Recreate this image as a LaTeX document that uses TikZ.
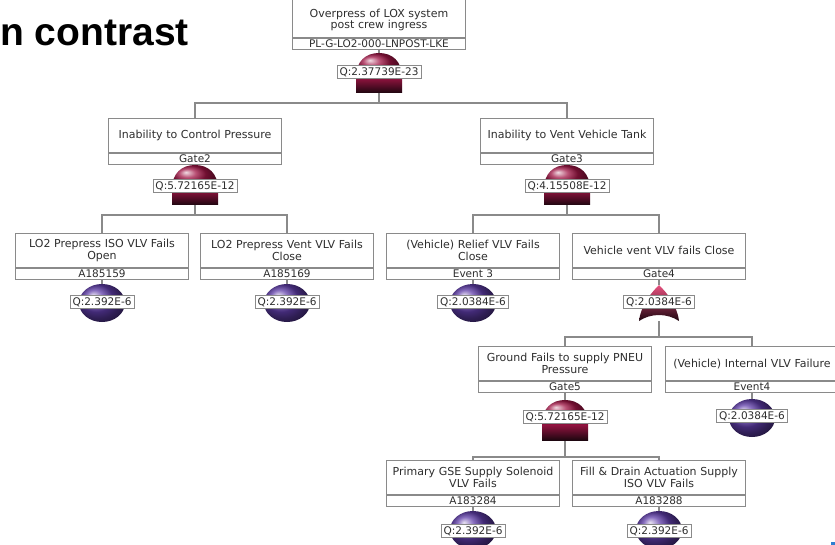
\documentclass[tikz,border=0pt]{standalone}
\usepackage{fontspec}
\setmainfont{DejaVu Sans}
\newfontfamily\headfont{Liberation Sans}
\usetikzlibrary{shapes.geometric,backgrounds}

\definecolor{boxline}{HTML}{8A8A8A}
\definecolor{txt}{HTML}{2E2E2E}
\definecolor{andlight}{HTML}{E8507E}
\definecolor{andmid}{HTML}{A01545}
\definecolor{anddark}{HTML}{1E0610}
\definecolor{evpurple}{HTML}{5E3CA8}
\definecolor{markblue}{HTML}{2E7FD0}

\tikzset{
  headline/.style={font=\headfont\bfseries\fontsize{39}{44}\selectfont, inner sep=0pt},
  title/.style={draw=boxline, line width=1.1pt, fill=white, minimum width=173pt,
    minimum height=34pt, text width=172pt, align=center, inner sep=0pt, anchor=north,
    text=txt, font=\fontsize{11}{11.5}\selectfont},
  ident/.style={draw=boxline, line width=1.1pt, fill=white, minimum width=173pt,
    minimum height=11pt, text width=172pt, align=center, inner sep=0pt, anchor=north,
    text=txt, font=\fontsize{10.5}{11}\selectfont},
  prob/.style={draw=boxline, line width=0.9pt, fill=white, inner xsep=2.5pt,
    inner ysep=1.5pt, text=txt, font=\fontsize{10.5}{11}\selectfont},
  event/.style={ellipse, minimum width=46pt, minimum height=38pt, inner sep=0pt,
    shading=ball, ball color=evpurple},
  andgate/.style={minimum width=46pt, minimum height=40pt, inner sep=0pt,
    path picture={
      \begin{scope}[shift={(path picture bounding box.center)}]
        \shade[top color=andmid, bottom color=anddark] (-23,3) rectangle (23,20);
        \shade[ball color=andmid] (-23,4) .. controls (-23,-12) and (-13,-20) .. (0,-20)
          .. controls (13,-20) and (23,-12) .. (23,4) -- cycle;
      \end{scope}}},
  orgate/.style={minimum width=42pt, minimum height=36pt, inner sep=0pt,
    path picture={
      \begin{scope}[shift={(path picture bounding box.center)}]
        \shade[top color=andlight, middle color=andmid, bottom color=anddark]
          (-20,18) .. controls (-18,2) and (-8,-10) .. (0,-18)
          .. controls (8,-10) and (18,2) .. (20,18)
          .. controls (8,10) and (-8,10) .. (-20,18) -- cycle;
      \end{scope}}},
  wire/.style={draw=boxline, line width=1.1pt},
}

\begin{document}
\begin{tikzpicture}[x=1pt,y=-1pt]
\useasboundingbox (0,0) rectangle (835,545);
\clip (0,0) rectangle (835,545);

\node[headline, anchor=base west] (head) at (0,46) {n contrast};

% top event
\node[title, minimum height=42pt] (t0) at (379,-5)
  {\rule{0pt}{15pt}Overpress of LOX system\\post crew ingress};
\node[ident] (i0) at (t0.south) {PL-G-LO2-000-LNPOST-LKE};
\node[andgate] (g0) at (379,73) {};
\node[prob] (q0) at (379,72) {Q:2.37739E-23};

% second level
\node[title] (t2) at (195,118) {Inability to Control Pressure};
\node[ident] (i2) at (t2.south) {Gate2};
\node[andgate] (g2) at (195,185) {};
\node[prob] (q2) at (195,186) {Q:5.72165E-12};

\node[title] (t3) at (567,118) {Inability to Vent Vehicle Tank};
\node[ident] (i3) at (t3.south) {Gate3};
\node[andgate] (g3) at (567,185) {};
\node[prob] (q3) at (567,186) {Q:4.15508E-12};

% third level
\node[title] (t4) at (102,233) {LO2 Prepress ISO VLV Fails\\Open};
\node[ident] (i4) at (t4.south) {A185159};
\node[event] (e4) at (102,303) {};
\node[prob] (q4) at (102,302) {Q:2.392E-6};

\node[title] (t5) at (287,233) {LO2 Prepress Vent VLV Fails\\Close};
\node[ident] (i5) at (t5.south) {A185169};
\node[event] (e5) at (287,303) {};
\node[prob] (q5) at (287,302) {Q:2.392E-6};

\node[title] (t6) at (473,233) {(Vehicle) Relief VLV Fails\\Close};
\node[ident] (i6) at (t6.south) {Event 3};
\node[event] (e6) at (473,303) {};
\node[prob] (q6) at (473,302) {Q:2.0384E-6};

\node[title] (t7) at (659,233) {Vehicle vent VLV fails Close};
\node[ident] (i7) at (t7.south) {Gate4};
\node[orgate] (g7) at (659,303) {};
\node[prob] (q7) at (659,302) {Q:2.0384E-6};

% fourth level
\node[title] (t8) at (565,346) {Ground Fails to supply PNEU\\Pressure};
\node[ident] (i8) at (t8.south) {Gate5};
\node[andgate] (g8) at (565,420) {};
\node[prob] (q8) at (565,417) {Q:5.72165E-12};

\node[title] (t9) at (752,346) {(Vehicle) Internal VLV Failure};
\node[ident] (i9) at (t9.south) {Event4};
\node[event] (e9) at (752,418) {};
\node[prob] (q9) at (752,416) {Q:2.0384E-6};

% fifth level
\node[title] (t10) at (473,460) {Primary GSE Supply Solenoid\\VLV Fails};
\node[ident] (i10) at (t10.south) {A183284};
\node[event] (e10) at (473,530) {};
\node[prob] (q10) at (473,531) {Q:2.392E-6};

\node[title] (t11) at (659,460) {Fill \& Drain Actuation Supply\\ISO VLV Fails};
\node[ident] (i11) at (t11.south) {A183288};
\node[event] (e11) at (659,530) {};
\node[prob] (q11) at (659,531) {Q:2.392E-6};

% junction points of the branch bars
\coordinate (j0) at (g0.south |- 0,103);
\coordinate (j2) at (g2.south |- 0,215);
\coordinate (j3) at (g3.south |- 0,215);
\coordinate (j7) at (g7.south |- 0,337);
\coordinate (j8) at (g8.south |- 0,457);

\fill[markblue] (831,542) rectangle (835,545);

\begin{scope}[on background layer]
  \fill[white] (0,0) rectangle (835,545);
  % box to gate / event
  \draw[wire] (i0.south) -- (g0.north);
  \draw[wire] (i2.south) -- (g2.north);
  \draw[wire] (i3.south) -- (g3.north);
  \draw[wire] (i4.south) -- (e4.north);
  \draw[wire] (i5.south) -- (e5.north);
  \draw[wire] (i6.south) -- (e6.north);
  \draw[wire] (i7.south) -- (g7.north);
  \draw[wire] (i8.south) -- (g8.north);
  \draw[wire] (i9.south) -- (e9.north);
  \draw[wire] (i10.south) -- (e10.north);
  \draw[wire] (i11.south) -- (e11.north);
  % gate to children
  \draw[wire] (g0.south) -- (j0) -| (t2.north);
  \draw[wire] (j0) -| (t3.north);
  \draw[wire] (g2.south) -- (j2) -| (t4.north);
  \draw[wire] (j2) -| (t5.north);
  \draw[wire] (g3.south) -- (j3) -| (t6.north);
  \draw[wire] (j3) -| (t7.north);
  \draw[wire] (g7.south) -- (j7) -| (t8.north);
  \draw[wire] (j7) -| (t9.north);
  \draw[wire] (g8.south) -- (j8) -| (t10.north);
  \draw[wire] (j8) -| (t11.north);
\end{scope}
\end{tikzpicture}
\end{document}
